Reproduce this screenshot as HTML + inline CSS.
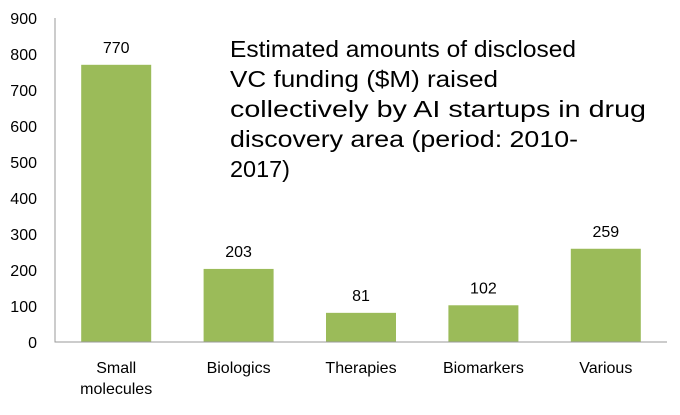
<!DOCTYPE html>
<html><head><meta charset="utf-8"><style>
body{margin:0;background:#fff;}
svg text{font-family:"Liberation Sans",sans-serif;fill:#000;}
</style></head><body>
<svg width="680" height="410">
<g id="g"></g>
<text font-size="23" x="230" y="56">
<tspan x="230" y="57" textLength="346" lengthAdjust="spacingAndGlyphs">Estimated amounts of disclosed</tspan>
<tspan x="230" y="87" textLength="268" lengthAdjust="spacingAndGlyphs">VC funding ($M) raised</tspan>
<tspan x="230" y="117" textLength="416" lengthAdjust="spacingAndGlyphs">collectively by AI startups in drug</tspan>
<tspan x="230" y="147" textLength="348" lengthAdjust="spacingAndGlyphs">discovery area (period: 2010-</tspan>
<tspan x="230" y="177" textLength="60" lengthAdjust="spacingAndGlyphs">2017)</tspan>
</text>
</svg>
<script>
const categories=[["Small","molecules"],["Biologics"],["Therapies"],["Biomarkers"],["Various"]];
const values=[770,203,81,102,259];
const ticks=[0,100,200,300,400,500,600,700,800,900];
const NS="http://www.w3.org/2000/svg";
const g=document.getElementById('g');
const x0=55,x1=667,y0=342,yTop=18,ymax=900;
const y=v=>y0-(v/ymax)*(y0-yTop);
const cw=(x1-x0)/categories.length;
const xc=i=>x0+cw*(i+0.5);
function mk(t,a){const e=document.createElementNS(NS,t);for(const k in a)e.setAttribute(k,a[k]);g.appendChild(e);return e;}
ticks.forEach(t=>{
 const e=mk('text',{x:37,y:y(t)+6,'text-anchor':'end','font-size':16});
 e.textContent=t;
 
 
});
values.forEach((v,i)=>{
 const r=mk('rect',{x:xc(i)-35,y:y(v),width:70,height:y0-y(v),fill:'#9BBB59'});
 
 
 const t=mk('text',{x:xc(i),y:y(v)-12,'text-anchor':'middle','font-size':16});
 t.textContent=v;
 
 
 categories[i].forEach((s,j)=>{
  const c=mk('text',{x:xc(i),y:373+j*21,'text-anchor':'middle','font-size':16});
  c.textContent=s;
  
  
 });
});
const ax=mk('polyline',{points:`${x0},${yTop} ${x0},${y0} ${x1},${y0}`,fill:'none',stroke:'#999','stroke-width':1});


</script>
</body></html>
